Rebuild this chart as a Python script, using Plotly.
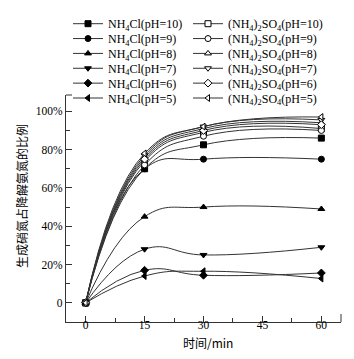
import plotly.graph_objects as go

# ---- data ----
time_min = [0, 15, 30, 60]
ph_values = ["10", "9", "8", "7", "6", "5"]

nh4cl_ph10 = [0, 70, 82.5, 86]
nh4cl_ph9 = [0, 70, 75, 75]
nh4cl_ph8 = [0, 45, 50, 49]
nh4cl_ph7 = [0, 28, 25, 29]
nh4cl_ph6 = [0, 17, 14.4, 15.6]
nh4cl_ph5 = [0, 14, 16.5, 12.7]

so4_ph10 = [0, 74, 89, 91]
so4_ph9 = [0, 72, 87, 90]
so4_ph8 = [0, 76, 91, 94]
so4_ph7 = [0, 77, 92, 95.5]
so4_ph6 = [0, 75, 90, 93]
so4_ph5 = [0, 78, 92, 97]

nh4cl_series = [nh4cl_ph10, nh4cl_ph9, nh4cl_ph8, nh4cl_ph7, nh4cl_ph6, nh4cl_ph5]
so4_series = [so4_ph10, so4_ph9, so4_ph8, so4_ph7, so4_ph6, so4_ph5]
symbols = ["square", "circle", "triangle-up", "triangle-down", "diamond", "triangle-left"]

y_tickvals = [0, 20, 40, 60, 80, 100]
y_ticktext = ["0", "20%", "40%", "60%", "80%", "100%"]
x_tickvals = [0, 15, 30, 45, 60]

W, H = 354, 359
ML, MR, MT, MB = 58, 21, 87, 45
SERIF = "Liberation Serif, Times New Roman, serif"

fig = go.Figure()

row_y = [15.7 + i * 14.86 for i in range(6)]
legend_layouts = {}
idx = 0
for col, (series, prefix) in enumerate([(nh4cl_series, "NH<sub>4</sub>Cl"),
                                         (so4_series, "(NH<sub>4</sub>)<sub>2</sub>SO<sub>4</sub>")]):
    for i, vals in enumerate(series):
        idx += 1
        lname = "legend" if idx == 1 else f"legend{idx}"
        filled = col == 0
        fig.add_trace(go.Scatter(
            x=time_min, y=vals, mode="lines+markers",
            name=f"{prefix}(pH={ph_values[i]})",
            line=dict(color="#333333", width=1, shape="spline", smoothing=1.3),
            marker=dict(symbol=symbols[i], size=6,
                        color="#000000" if filled else "#ffffff",
                        line=dict(color="#000000", width=1)),
            legend=lname,
        ))
        left_px = 60 if col == 0 else 180
        legend_layouts[lname] = dict(
            xref="container", yref="container",
            x=left_px / W, y=1 - row_y[i] / H,
            xanchor="left", yanchor="middle",
            bgcolor="rgba(0,0,0,0)", borderwidth=0,
            font=dict(family=SERIF, size=12, color="#000"),
        )

fig.update_layout(
    width=W, height=H,
    margin=dict(l=ML, r=MR, t=MT, b=MB, autoexpand=False),
    paper_bgcolor="white", plot_bgcolor="white",
    showlegend=True,
    font=dict(family=SERIF, size=12, color="#000"),
    **legend_layouts,
)

fig.update_xaxes(
    range=[-5, 65], tickvals=x_tickvals, showgrid=False, zeroline=False,
    showline=True, linecolor="#333", linewidth=1.3,
    ticks="inside", ticklen=6, tickcolor="#333", tickwidth=1,
    minor=dict(dtick=7.5, tick0=0, ticks="inside", ticklen=4, tickcolor="#333"),
    tickfont=dict(family=SERIF, size=11.5),
    ticklabelstandoff=-8,
)
fig.update_yaxes(
    range=[-10, 108.5], tickvals=y_tickvals, ticktext=y_ticktext,
    showgrid=False, zeroline=False,
    showline=True, linecolor="#333", linewidth=1.3,
    ticks="inside", ticklen=6, tickcolor="#333", tickwidth=1,
    minor=dict(dtick=10, tick0=0, ticks="inside", ticklen=4, tickcolor="#333"),
    tickfont=dict(family=SERIF, size=11.5),
    ticklabelstandoff=0,
)

PW, PH = W - ML - MR, H - MT - MB
# y-axis title as rotated annotation
fig.add_annotation(
    text="生成硝氮占降解氨氮的比例", textangle=-90,
    xref="paper", yref="paper", x=(13 - ML) / PW, y=1 - (188 - MT) / PH,
    xanchor="center", yanchor="middle", showarrow=False,
    font=dict(family="Noto Sans CJK SC", size=12, color="#000"),
)
# x-axis title as annotation
fig.add_annotation(
    text="时间/min",
    xref="paper", yref="paper", x=(200 - ML) / PW, y=-(334 - MT - PH) / PH,
    xanchor="center", yanchor="middle", showarrow=False,
    font=dict(family="Noto Sans CJK SC, " + SERIF, size=12, color="#000"),
)

# axis end ticks
fig.add_shape(type="line", xref="paper", yref="paper", x0=1, x1=1, y0=0, y1=8 / PH,
              line=dict(color="#333", width=1))
fig.add_shape(type="line", xref="paper", yref="paper", x0=0, x1=6 / PW, y0=1, y1=1,
              line=dict(color="#333", width=1))

fig.write_html("out.html")
